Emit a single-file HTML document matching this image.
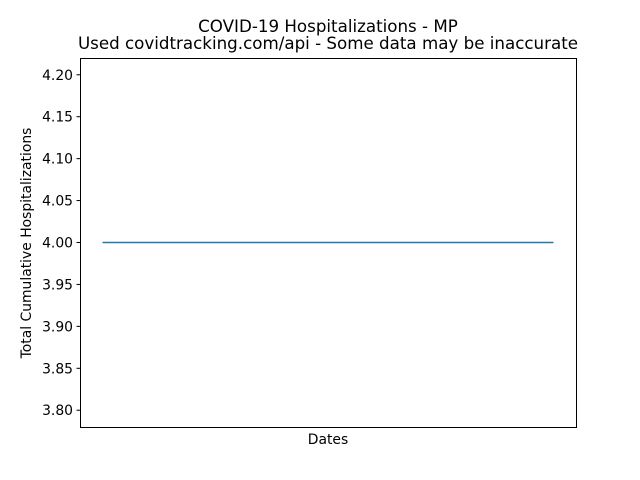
<!DOCTYPE html>
<html><head><meta charset="utf-8"><style>
body{margin:0;background:#fff}
svg{display:block;font-family:"DejaVu Sans","Liberation Sans",sans-serif}
</style></head><body>
<svg id="chart" width="640" height="480" viewBox="0 0 640 480">
<rect width="640" height="480" fill="#fff"/>
<text x="328" y="32" font-size="16.7" text-anchor="middle">COVID-19 Hospitalizations - MP</text>
<text x="328" y="49" font-size="16.7" text-anchor="middle">Used covidtracking.com/api - Some data may be inaccurate</text>
<g id="yticks"></g>
<g id="series"></g>
<rect x="80.5" y="58.5" width="496" height="369" fill="none" stroke="#000" stroke-width="1"/>
<text x="328" y="444" font-size="13.9" text-anchor="middle">Dates</text>
<text transform="translate(31,243) rotate(-90)" font-size="13.9" text-anchor="middle">Total Cumulative Hospitalizations</text>
</svg>
<script>
const dates = ["2020-06-01","2020-06-15","2020-07-01","2020-07-15","2020-08-01","2020-08-15","2020-09-01"];
const hospitalizations = [4,4,4,4,4,4,4];
const yTickValues = [3.80,3.85,3.90,3.95,4.00,4.05,4.10,4.15,4.20];
const yTickLabels = ["3.80","3.85","3.90","3.95","4.00","4.05","4.10","4.15","4.20"];

const ns="http://www.w3.org/2000/svg";
const L=80,R=576,T=58,B=427;
let ymin=Math.min(...hospitalizations),ymax=Math.max(...hospitalizations);
if(ymin===ymax){ymin-=0.2;ymax+=0.2;}
const yp=(ymax-ymin)*0.05; const y0=ymin-yp,y1=ymax+yp;
const n=dates.length; const xr=Math.max(n-1,1); const x0=-xr*0.05,x1=(n-1)+xr*0.05;
const xs=i=>L+(i-x0)/(x1-x0)*(R-L);
const ys=v=>B-(v-y0)/(y1-y0)*(B-T);
const yg=document.getElementById('yticks');
yTickValues.forEach((v,i)=>{
  const y=ys(v);
  const t=document.createElementNS(ns,'line');
  t.setAttribute('x1',L-3.5);t.setAttribute('x2',L);t.setAttribute('y1',y);t.setAttribute('y2',y);t.setAttribute('stroke','#000');
  
  
  yg.appendChild(t);
  const tx=document.createElementNS(ns,'text');
  tx.setAttribute('x',L-7);tx.setAttribute('y',y+5);tx.setAttribute('font-size','13.9');tx.setAttribute('text-anchor','end');
  tx.textContent=yTickLabels[i];
  
  
  yg.appendChild(tx);
});
const p=document.createElementNS(ns,'polyline');
p.setAttribute('points',hospitalizations.map((v,i)=>xs(i)+','+ys(v)).join(' '));
p.setAttribute('fill','none');p.setAttribute('stroke','#1f77b4');p.setAttribute('stroke-width','1.5');


document.getElementById('series').appendChild(p);
</script>
</body></html>
